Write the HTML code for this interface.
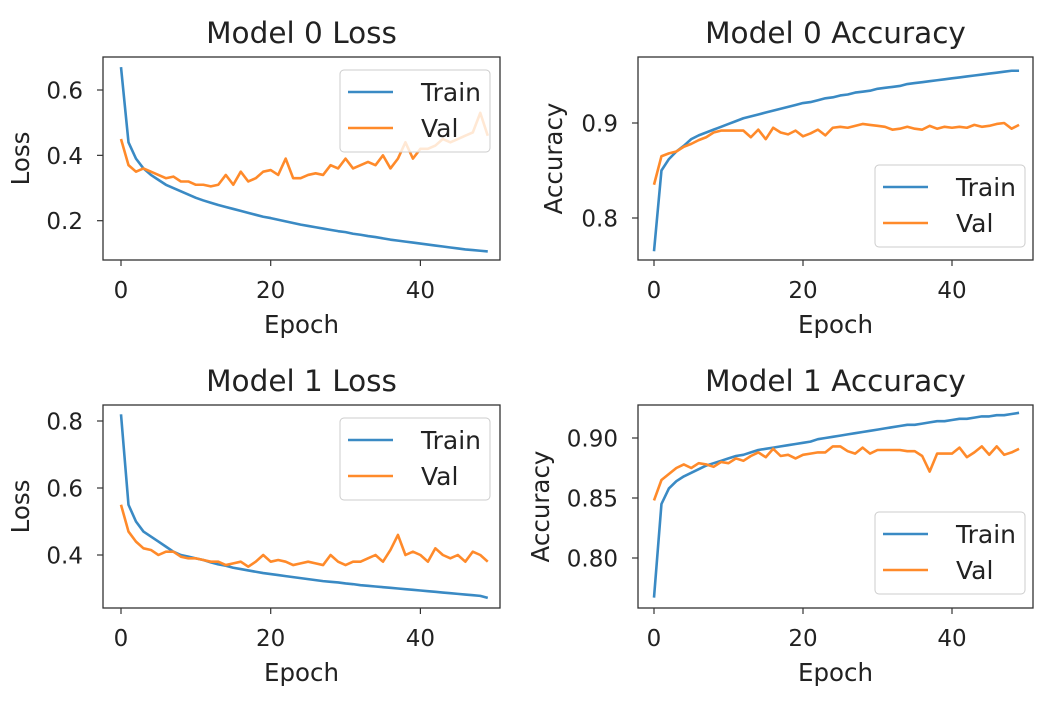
<!DOCTYPE html>
<html><head><meta charset="utf-8"><style>
body{margin:0;background:#fff;width:1061px;height:713px;overflow:hidden}
svg{font-family:"DejaVu Sans","Liberation Sans",sans-serif}
</style></head><body>
<svg id="fig" width="1061" height="713" xmlns="http://www.w3.org/2000/svg"></svg>
<script>
const epochs = Array.from({length:50},(_,i)=>i);
const m0LossTrain=[0.67,0.44,0.39,0.36,0.34,0.325,0.31,0.30,0.29,0.28,0.27,0.262,0.255,0.248,0.242,0.236,0.23,0.224,0.218,0.212,0.208,0.203,0.198,0.193,0.188,0.184,0.18,0.176,0.172,0.168,0.165,0.16,0.157,0.153,0.15,0.146,0.142,0.139,0.136,0.133,0.13,0.127,0.124,0.121,0.118,0.115,0.112,0.11,0.108,0.106];
const m0LossVal=[0.45,0.37,0.35,0.36,0.35,0.34,0.33,0.335,0.32,0.32,0.31,0.31,0.305,0.31,0.34,0.31,0.35,0.32,0.33,0.35,0.355,0.34,0.39,0.33,0.33,0.34,0.345,0.34,0.37,0.36,0.39,0.36,0.37,0.38,0.37,0.40,0.36,0.39,0.44,0.39,0.42,0.42,0.43,0.45,0.44,0.45,0.46,0.47,0.53,0.46];
const m0AccTrain=[0.765,0.85,0.862,0.87,0.876,0.883,0.887,0.89,0.893,0.896,0.899,0.902,0.905,0.907,0.909,0.911,0.913,0.915,0.917,0.919,0.921,0.922,0.924,0.926,0.927,0.929,0.93,0.932,0.933,0.934,0.936,0.937,0.938,0.939,0.941,0.942,0.943,0.944,0.945,0.946,0.947,0.948,0.949,0.95,0.951,0.952,0.953,0.954,0.955,0.955];
const m0AccVal=[0.835,0.865,0.868,0.870,0.875,0.878,0.882,0.885,0.89,0.892,0.892,0.892,0.892,0.885,0.893,0.883,0.895,0.89,0.888,0.892,0.886,0.889,0.893,0.887,0.895,0.896,0.895,0.897,0.899,0.898,0.897,0.896,0.893,0.894,0.896,0.894,0.893,0.897,0.894,0.896,0.895,0.896,0.895,0.898,0.896,0.897,0.899,0.9,0.894,0.898];
const m1LossTrain=[0.82,0.55,0.50,0.47,0.455,0.44,0.425,0.41,0.40,0.395,0.39,0.385,0.378,0.372,0.368,0.362,0.358,0.354,0.35,0.346,0.343,0.34,0.337,0.334,0.331,0.328,0.325,0.322,0.32,0.318,0.315,0.313,0.31,0.308,0.306,0.304,0.302,0.30,0.298,0.296,0.294,0.292,0.29,0.288,0.286,0.284,0.282,0.28,0.278,0.272];
const m1LossVal=[0.55,0.47,0.44,0.42,0.415,0.40,0.41,0.41,0.395,0.39,0.39,0.385,0.38,0.38,0.37,0.375,0.38,0.365,0.38,0.40,0.38,0.385,0.38,0.37,0.375,0.38,0.375,0.37,0.40,0.38,0.37,0.38,0.38,0.39,0.40,0.38,0.415,0.46,0.40,0.41,0.40,0.38,0.42,0.40,0.39,0.40,0.38,0.41,0.40,0.38];
const m1AccTrain=[0.767,0.845,0.858,0.864,0.868,0.871,0.874,0.877,0.879,0.881,0.883,0.885,0.886,0.888,0.89,0.891,0.892,0.893,0.894,0.895,0.896,0.897,0.899,0.9,0.901,0.902,0.903,0.904,0.905,0.906,0.907,0.908,0.909,0.91,0.911,0.911,0.912,0.913,0.914,0.914,0.915,0.916,0.916,0.917,0.918,0.918,0.919,0.919,0.92,0.921];
const m1AccVal=[0.848,0.865,0.87,0.875,0.878,0.875,0.879,0.878,0.876,0.88,0.879,0.883,0.881,0.885,0.888,0.884,0.891,0.885,0.886,0.883,0.886,0.887,0.888,0.888,0.893,0.893,0.889,0.887,0.892,0.887,0.89,0.89,0.89,0.89,0.889,0.889,0.885,0.872,0.887,0.887,0.887,0.892,0.884,0.888,0.893,0.886,0.893,0.886,0.888,0.891];
const xTicks=[0,20,40];
const m0LossTicks=[0.2,0.4,0.6];
const m0AccTicks=[0.8,0.9];
const m1LossTicks=[0.4,0.6,0.8];
const m1AccTicks=[0.80,0.85,0.90];

const NS="http://www.w3.org/2000/svg";
const fig=document.getElementById('fig');
function mk(tag,attrs,parent,text){const e=document.createElementNS(NS,tag);for(const k in attrs)e.setAttribute(k,attrs[k]);if(text!==undefined)e.textContent=text;parent.appendChild(e);return e;}

const panels=[
 {name:'model-0-loss',title:'Model 0 Loss',ylab:'Loss',ylx:20,L:103,R:500,T:57,B:260,x0:121,x20:270.7,yv:[0.6,90,0.2,220.7],ticks:m0LossTicks,dec:1,tr:m0LossTrain,va:m0LossVal,leg:[340,70]},
 {name:'model-0-accuracy',title:'Model 0 Accuracy',ylab:'Accuracy',ylx:553,L:638,R:1033,T:57,B:260,x0:654,x20:803,yv:[0.9,123,0.8,218],ticks:m0AccTicks,dec:1,tr:m0AccTrain,va:m0AccVal,leg:[875,165]},
 {name:'model-1-loss',title:'Model 1 Loss',ylab:'Loss',ylx:20,L:103,R:500,T:405,B:608,x0:121,x20:270.7,yv:[0.8,421,0.4,555],ticks:m1LossTicks,dec:1,tr:m1LossTrain,va:m1LossVal,leg:[340,418]},
 {name:'model-1-accuracy',title:'Model 1 Accuracy',ylab:'Accuracy',ylx:540,L:638,R:1033,T:405,B:608,x0:654,x20:803,yv:[0.9,438,0.8,558],ticks:m1AccTicks,dec:2,tr:m1AccTrain,va:m1AccVal,leg:[875,512]}
];
panels.forEach(p=>{
 const g=mk('g',{},fig);
 
 
 const xs=v=>p.x0+(p.x20-p.x0)/20*v;
 const ys=v=>p.yv[1]+(p.yv[0]-v)*(p.yv[3]-p.yv[1])/(p.yv[0]-p.yv[2]);
 const cx=(p.L+p.R)/2;
 const t=mk('text',{x:cx,y:p.T-14,'text-anchor':'middle','font-size':29.5,fill:'#222'},g,p.title);
 
 xTicks.forEach(v=>{mk('line',{x1:xs(v),x2:xs(v),y1:p.B,y2:p.B+6,stroke:'#333','stroke-width':1.2},g);
  const tl=mk('text',{x:xs(v),y:p.B+38,'text-anchor':'middle','font-size':23,fill:'#222'},g,String(v));
  });
 p.ticks.forEach(v=>{mk('line',{x1:p.L-6,x2:p.L,y1:ys(v),y2:ys(v),stroke:'#333','stroke-width':1.2},g);
  const tl=mk('text',{x:p.L-20,y:ys(v)+8.5,'text-anchor':'end','font-size':23,fill:'#222'},g,v.toFixed(p.dec));
  });
 const xl=mk('text',{x:cx,y:p.B+73,'text-anchor':'middle','font-size':24.5,fill:'#222'},g,'Epoch');
 
 const ymid=(p.T+p.B)/2, yx=p.ylx+9;
 const yl=mk('text',{x:yx,y:ymid,'text-anchor':'middle','font-size':24.5,fill:'#222',transform:`rotate(-90 ${yx} ${ymid})`},g,p.ylab);
 
 [[p.tr,'#3a8ac4','train'],[p.va,'#ff8a2a','val']].forEach(([arr,c,n])=>{
  const l=mk('polyline',{points:arr.map((v,i)=>xs(epochs[i])+','+ys(v)).join(' '),fill:'none',stroke:c,'stroke-width':2.6,'stroke-linejoin':'round'},g);
  });
 mk('rect',{x:p.L,y:p.T,width:p.R-p.L,height:p.B-p.T,fill:'none',stroke:'#333','stroke-width':1.3},g);
 const lg=mk('g',{},g);
 
 const [lx,ly]=p.leg;
 mk('rect',{x:lx,y:ly,width:150,height:82,rx:4,fill:'#fff','fill-opacity':0.8,stroke:'#ccc'},lg);
 [['Train','#3a8ac4'],['Val','#ff8a2a']].forEach(([s,c],i)=>{
  const yy=ly+22+i*36;
  mk('line',{x1:lx+8,x2:lx+53,y1:yy,y2:yy,stroke:c,'stroke-width':2.6},lg);
  const e=mk('text',{x:lx+81,y:yy+9,'font-size':25,fill:'#222'},lg,s);
  });
});
</script>
</body></html>
